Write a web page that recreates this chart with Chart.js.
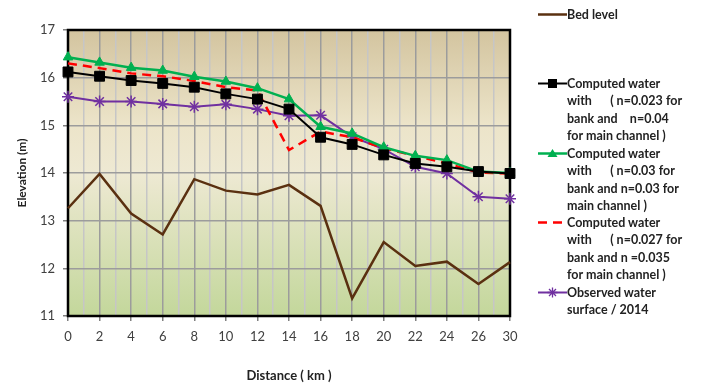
<!DOCTYPE html>
<html>
<head>
<meta charset="UTF-8">
<title>Water surface profile</title>
<script src="https://cdn.jsdelivr.net/npm/chart.js@4.4.1/dist/chart.umd.min.js"></script>
<style>
    body { margin: 0; background: #fff; font-family: Lato, sans-serif; }
    #wrap { position: relative; width: 705px; height: 387px; }
    #legend { position: absolute; left: 538px; top: 0; width: 167px; height: 387px; }
    .item { position: absolute; left: 0; }
    .item svg { position: absolute; left: 0; top: 3px; }
    .item span { position: absolute; left: 29px; top: 0; font-weight: bold; font-size: 12.5px;
                 line-height: 17.3px; color: #222; white-space: pre; }
</style>
</head>
<body>
<div id="wrap">
    <canvas id="profile" width="705" height="387"></canvas>
    <div id="legend"></div>
</div>
<script>
// distance stations (km)
const distances = ['0', '2', '4', '6', '8', '10', '12', '14', '16', '18', '20', '22', '24', '26', '30'];
const bedLevel  = [13.26, 13.98, 13.15, 12.71, 13.87, 13.63, 13.55, 13.75, 13.31, 11.37, 12.55, 12.05, 12.14, 11.67, 12.13];
const computedA = [16.12, 16.03, 15.94, 15.88, 15.80, 15.66, 15.55, 15.34, 14.75, 14.60, 14.38, 14.20, 14.13, 14.03, 13.99];
const computedB = [16.43, 16.32, 16.21, 16.15, 16.02, 15.92, 15.78, 15.55, 14.97, 14.83, 14.54, 14.36, 14.27, 14.03, 14.00];
const computedC = [16.30, 16.20, 16.09, 16.03, 15.93, 15.80, 15.73, 14.48, 14.87, 14.75, 14.52, 14.36, 14.20, 14.01, 13.99];
const observed  = [15.60, 15.50, 15.50, 15.45, 15.39, 15.44, 15.34, 15.20, 15.21, 14.76, 14.50, 14.13, 13.99, 13.50, 13.46];
const yTicks = [11, 12, 13, 14, 15, 16, 17];

const legendLabels = [
    ['Bed level'],
    ['Computed water', 'with      ( n=0.023 for', 'bank and    n=0.04', 'for main channel )'],
    ['Computed water', 'with      ( n=0.03 for', 'bank and n=0.03 for', 'main channel )'],
    ['Computed water', 'with      ( n=0.027 for', 'bank and n =0.035', 'for main channel )'],
    ['Observed water', 'surface / 2014']
];
const legendTops = [6, 75, 145, 214, 284];

function toPoints(arr) {
    return arr.map(function (v, i) { return {x: i, y: v}; });
}

const series = [
    {data: bedLevel, color: '#5a3010', width: 2.5, style: false, radius: 0, dash: []},
    {data: computedA, color: '#000000', width: 2, style: 'rect', radius: 7, dash: []},
    {data: computedB, color: '#00b050', width: 2.5, style: 'triangle', radius: 5.5, dash: []},
    {data: computedC, color: '#ff0000', width: 2.5, style: false, radius: 0, dash: [9, 6]},
    {data: observed, color: '#7030a0', width: 2, style: 'star', radius: 6, dash: []}
];

const datasets = series.map(function (s, i) {
    return {
        label: legendLabels[i].join(' '),
        data: toPoints(s.data),
        borderColor: s.color,
        backgroundColor: s.color,
        borderWidth: s.width,
        borderDash: s.dash,
        pointStyle: s.style,
        pointRadius: s.radius,
        pointBorderWidth: s.style === 'star' ? 1.5 : 1,
        tension: 0,
        clip: false
    };
});

// legend
const legend = document.getElementById('legend');
series.forEach(function (s, i) {
    const item = document.createElement('div');
    item.className = 'item';
    item.style.top = legendTops[i] + 'px';
    let marker = '';
    if (s.style === 'rect') marker = '<rect x="10" y="1" width="9" height="9" fill="#000"/>';
    if (s.style === 'triangle') marker = '<polygon points="14.5,1 19.5,9 9.5,9" fill="' + s.color + '"/>';
    if (s.style === 'star') marker = '<path d="M14.5 0.5V10.5M9.5 5.5H19.5M11 2L18 9M18 2L11 9" stroke="' + s.color + '" stroke-width="1.3"/>';
    const dash = s.dash.length ? ' stroke-dasharray="9 6"' : '';
    item.innerHTML = '<svg width="29" height="11"><line x1="0" y1="5.5" x2="29" y2="5.5" stroke="' + s.color +
            '" stroke-width="' + s.width + '"' + dash + '/>' + marker + '</svg>' +
            '<span>' + legendLabels[i].join('\n') + '</span>';
    legend.appendChild(item);
});

const plotBackground = {
    id: 'plotBackground',
    beforeDraw: function (chart) {
        const a = chart.chartArea;
        const ctx = chart.ctx;
        const g = ctx.createLinearGradient(0, a.top, 0, a.bottom);
        g.addColorStop(0, '#d3c49f');
        g.addColorStop(0.33, '#ece4c9');
        g.addColorStop(0.5, '#eee9d3');
        g.addColorStop(1, '#c3d79b');
        ctx.save();
        ctx.fillStyle = g;
        ctx.fillRect(a.left, a.top, a.right - a.left, a.bottom - a.top);
        ctx.restore();
    },
    beforeDatasetsDraw: function (chart) {
        const a = chart.chartArea;
        const ctx = chart.ctx;
        ctx.save();
        ctx.strokeStyle = '#000';
        ctx.lineWidth = 2.5;
        ctx.strokeRect(a.left, a.top, a.right - a.left, a.bottom - a.top);
        ctx.restore();
    }
};

new Chart(document.getElementById('profile'), {
    type: 'line',
    data: {datasets: datasets},
    plugins: [plotBackground],
    options: {
        responsive: false,
        animation: false,
        layout: {padding: {top: 30, right: 195, left: 0, bottom: 0}},
        plugins: {legend: {display: false}, tooltip: {enabled: false}},
        scales: {
            x: {
                type: 'linear',
                min: 0,
                max: distances.length - 1,
                afterFit: function (scale) { scale.height = 71; },
                ticks: {
                    stepSize: 0.5,
                    autoSkip: false,
                    maxRotation: 0,
                    maxTicksLimit: 100,
                    padding: 8,
                    color: '#404040',
                    font: {family: 'Lato', size: 13},
                    callback: function (v) { return Number.isInteger(v) ? distances[v] : ''; }
                },
                grid: {
                    color: function (c) { return Number.isInteger(c.tick.value) ? '#9c9c9c' : '#c6c6c6'; },
                    lineWidth: 1.5,
                    tickLength: 5,
                    tickColor: function (c) { return Number.isInteger(c.tick.value) ? '#808080' : 'rgba(0,0,0,0)'; }
                },
                border: {color: '#000', width: 2},
                title: {
                    display: true,
                    text: 'Distance ( km )',
                    color: '#222',
                    font: {family: 'Lato', size: 13, weight: 'bold'},
                    padding: {top: 0, bottom: 3}
                }
            },
            y: {
                min: 11,
                max: 17,
                afterFit: function (scale) { scale.width = 68; },
                afterBuildTicks: function (scale) {
                    scale.ticks = yTicks.map(function (v) { return {value: v}; });
                },
                ticks: {
                    padding: 8,
                    color: '#404040',
                    font: {family: 'Lato', size: 13}
                },
                grid: {color: '#9c9c9c', lineWidth: 1.5, tickLength: 5, tickColor: '#808080'},
                border: {color: '#000', width: 2},
                title: {
                    display: true,
                    text: 'Elevation (m)',
                    color: '#222',
                    font: {family: 'Lato', size: 12, weight: 'bold'},
                    padding: {top: 15, bottom: 0}
                }
            }
        }
    }
});
</script>
</body>
</html>
